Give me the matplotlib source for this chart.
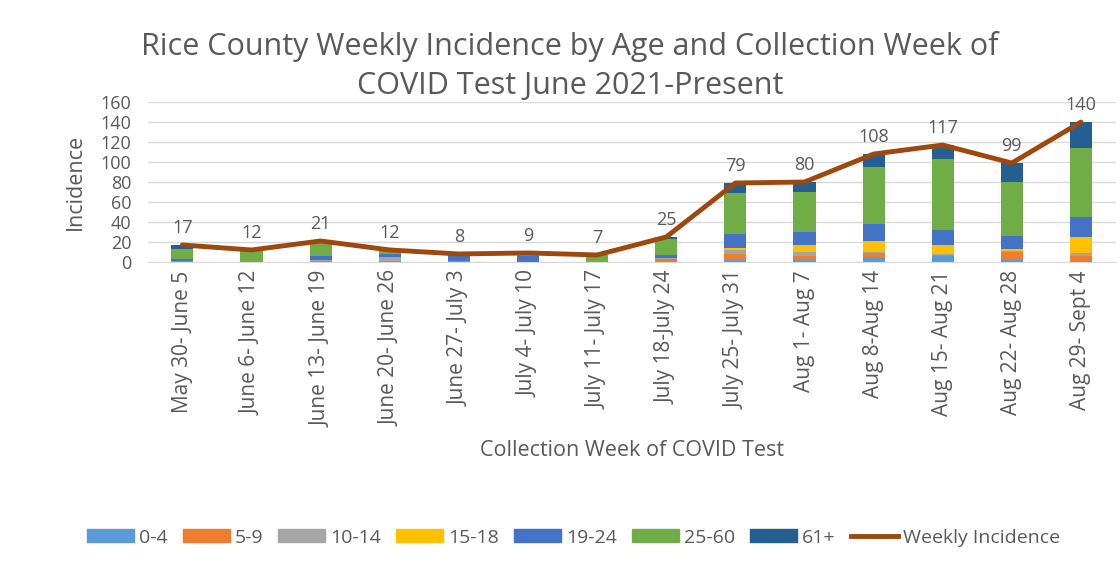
import numpy as np
import matplotlib.pyplot as plt
from matplotlib.lines import Line2D
from matplotlib.patches import Patch

plt.rcParams['font.family'] = ['Open Sans', 'DejaVu Sans']

weeks = ['May 30- June 5', 'June 6- June 12', 'June 13- June 19', 'June 20- June 26',
         'June 27- July 3', 'July 4- July 10', 'July 11- July 17', 'July 18-July 24',
         'July 25- July 31', 'Aug 1- Aug 7', 'Aug 8-Aug 14', 'Aug 15- Aug 21',
         'Aug 22- Aug 28', 'Aug 29- Sept 4']

age_0_4 = [1, 0, 1, 1, 1, 0, 0, 1, 2, 2, 4, 6, 2, 1]
age_5_9 = [0, 0, 0, 0, 0, 0, 0, 2, 6, 4, 5, 1, 8, 5]
age_10_14 = [0, 0, 1, 4, 0, 0, 0, 1, 4, 4, 1, 1, 1, 3]
age_15_18 = [0, 0, 0, 0, 0, 0, 0, 0, 2, 7, 11, 9, 2, 16]
age_19_24 = [2, 0, 4, 3, 6, 6, 0, 3, 14, 13, 17, 15, 13, 20]
age_25_60 = [10, 12, 14, 3, 1, 2, 7, 16, 41, 40, 57, 71, 54, 69]
age_61p = [4, 0, 1, 1, 0, 1, 0, 2, 10, 10, 13, 14, 19, 26]
weekly = [17, 12, 21, 12, 8, 9, 7, 25, 79, 80, 108, 117, 99, 140]

groups = ['0-4', '5-9', '10-14', '15-18', '19-24', '25-60', '61+']
series = [age_0_4, age_5_9, age_10_14, age_15_18, age_19_24, age_25_60, age_61p]
colors = ['#5B9BD5', '#ED7D31', '#A5A5A5', '#FFC000', '#4472C4', '#70AD47', '#255E91']
line_color = '#9E480E'
text_color = '#595959'

fig = plt.figure(figsize=(11.2, 5.67), dpi=100)
ax = fig.add_axes([0.132, 0.538, 0.864, 0.282])

x = np.arange(len(weeks))
bottom = np.zeros(len(weeks))
for name, vals, c in zip(groups, series, colors):
    ax.bar(x, vals, 0.32, bottom=bottom, color=c, label=name, zorder=2)
    bottom += np.array(vals)

ax.plot(x, weekly, color=line_color, lw=3.5, zorder=3, solid_capstyle='round')
for xi, v in zip(x, weekly):
    ax.annotate(str(v), (xi, v), xytext=(0, 6), textcoords='offset points',
                ha='center', va='bottom', fontsize=13, color=text_color)

ax.set_xlim(-0.5, len(weeks) - 0.5)
ax.set_ylim(0, 160)
ax.set_yticks(range(0, 161, 20))
ax.yaxis.grid(True, color='#D9D9D9', lw=1)
ax.set_axisbelow(True)
for s in ['top', 'right', 'left']:
    ax.spines[s].set_visible(False)
ax.spines['bottom'].set_color('#D9D9D9')
ax.tick_params(axis='both', length=0, colors=text_color)
ax.tick_params(axis='y', pad=12, labelsize=13)
ax.tick_params(axis='x', pad=6, labelsize=15)
ax.set_xticks(x)
ax.set_xticklabels(weeks, rotation=90, va='top')

fig.text(75 / 1120, 0.679, 'Incidence', rotation=90, ha='center', va='center',
         fontsize=15.5, color=text_color)
fig.text(632 / 1120, 1 - 451 / 567, 'Collection Week of COVID Test', ha='center', va='center',
         fontsize=15.5, color=text_color)

fig.text(0.509, 0.883, 'Rice County Weekly Incidence by Age and Collection Week of\nCOVID Test June 2021-Present',
         ha='center', va='center', fontsize=22, color=text_color, linespacing=1.4)

handles = [Patch(color=c) for c in colors] + [Line2D([0], [0], color=line_color, lw=3.5)]
labels = groups + ['Weekly Incidence']
fig.legend(handles, labels, loc='center', bbox_to_anchor=(0.512, 0.052), ncol=8,
           frameon=False, fontsize=14, handlelength=2.4, handleheight=0.6,
           columnspacing=0.8, handletextpad=0.25, labelcolor=text_color)

fig.savefig('out.png', dpi=100)
